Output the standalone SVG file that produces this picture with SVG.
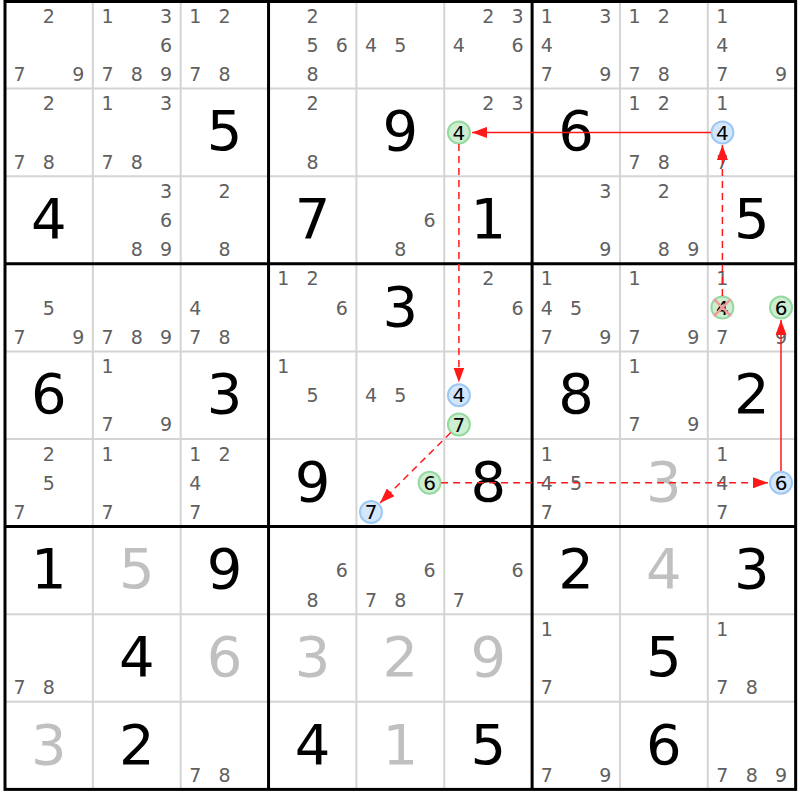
<svg xmlns="http://www.w3.org/2000/svg" width="800" height="800" viewBox="0 0 800 800">
<style>
text{font-family:"DejaVu Sans","Liberation Sans",sans-serif;text-anchor:middle}
.c{font-size:19px;fill:#606060}
.h{font-size:20px;fill:#000}
.g{font-size:56px;fill:#000}
.s{font-size:56px;fill:#c0c0c0}
.gc{fill:#cdeed0;stroke:#95d9a0;stroke-width:2}
.bc{fill:#d2e6fc;stroke:#9ec8f2;stroke-width:2}
.thin{stroke:#d4d4d4;stroke-width:2}
.thick{stroke:#000;stroke-width:3}
.a{stroke:#ff1a1a;stroke-width:1.5;fill:none}
.d{stroke-dasharray:7,5}
</style>
<defs>
<marker id="ah" markerUnits="userSpaceOnUse" markerWidth="16" markerHeight="11" refX="15" refY="5.5" orient="auto"><path d="M0,0 L15,5.5 L0,11 z" fill="#ff1a1a"/></marker>
</defs>
<rect x="0" y="0" width="800" height="800" fill="#fff"/>
<g id="grid">
<g class="thin">
<line x1="92.85" y1="1" x2="92.85" y2="789.4"/><line x1="180.7" y1="1" x2="180.7" y2="789.4"/>
<line x1="356.4" y1="1" x2="356.4" y2="789.4"/><line x1="444.25" y1="1" x2="444.25" y2="789.4"/>
<line x1="619.95" y1="1" x2="619.95" y2="789.4"/><line x1="707.8" y1="1" x2="707.8" y2="789.4"/>
<line x1="5" y1="88.6" x2="795.65" y2="88.6"/><line x1="5" y1="176.2" x2="795.65" y2="176.2"/>
<line x1="5" y1="351.4" x2="795.65" y2="351.4"/><line x1="5" y1="439" x2="795.65" y2="439"/>
<line x1="5" y1="614.2" x2="795.65" y2="614.2"/><line x1="5" y1="701.8" x2="795.65" y2="701.8"/>
</g>
<g class="thick">
<line x1="268.55" y1="1" x2="268.55" y2="789.4"/><line x1="532.1" y1="1" x2="532.1" y2="789.4"/>
<line x1="5" y1="263.8" x2="795.65" y2="263.8"/><line x1="5" y1="526.6" x2="795.65" y2="526.6"/>
<rect x="5" y="1.5" width="790.65" height="787.9" fill="none"/>
</g>
</g>

<g id="r0c0"><text class="c" x="48.9" y="22.6">2</text><text class="c" x="19.6" y="81">7</text><text class="c" x="78.2" y="81">9</text></g>
<g id="r0c1"><text class="c" x="107.5" y="22.6">1</text><text class="c" x="166.1" y="22.6">3</text><text class="c" x="166.1" y="51.8">6</text><text class="c" x="107.5" y="81">7</text><text class="c" x="136.8" y="81">8</text><text class="c" x="166.1" y="81">9</text></g>
<g id="r0c2"><text class="c" x="195.3" y="22.6">1</text><text class="c" x="224.6" y="22.6">2</text><text class="c" x="195.3" y="81">7</text><text class="c" x="224.6" y="81">8</text></g>
<g id="r0c3"><text class="c" x="312.5" y="22.6">2</text><text class="c" x="312.5" y="51.8">5</text><text class="c" x="341.8" y="51.8">6</text><text class="c" x="312.5" y="81">8</text></g>
<g id="r0c4"><text class="c" x="371" y="51.8">4</text><text class="c" x="400.3" y="51.8">5</text></g>
<g id="r0c5"><text class="c" x="488.2" y="22.6">2</text><text class="c" x="517.5" y="22.6">3</text><text class="c" x="458.9" y="51.8">4</text><text class="c" x="517.5" y="51.8">6</text></g>
<g id="r0c6"><text class="c" x="546.7" y="22.6">1</text><text class="c" x="605.3" y="22.6">3</text><text class="c" x="546.7" y="51.8">4</text><text class="c" x="546.7" y="81">7</text><text class="c" x="605.3" y="81">9</text></g>
<g id="r0c7"><text class="c" x="634.6" y="22.6">1</text><text class="c" x="663.9" y="22.6">2</text><text class="c" x="634.6" y="81">7</text><text class="c" x="663.9" y="81">8</text></g>
<g id="r0c8"><text class="c" x="722.4" y="22.6">1</text><text class="c" x="722.4" y="51.8">4</text><text class="c" x="722.4" y="81">7</text><text class="c" x="781" y="81">9</text></g>

<g id="r1c0"><text class="c" x="48.9" y="110.2">2</text><text class="c" x="19.6" y="168.6">7</text><text class="c" x="48.9" y="168.6">8</text></g>
<g id="r1c1"><text class="c" x="107.5" y="110.2">1</text><text class="c" x="166.1" y="110.2">3</text><text class="c" x="107.5" y="168.6">7</text><text class="c" x="136.8" y="168.6">8</text></g>
<g id="r1c2"><text class="g" x="224.6" y="150.4">5</text></g>
<g id="r1c3"><text class="c" x="312.5" y="110.2">2</text><text class="c" x="312.5" y="168.6">8</text></g>
<g id="r1c4"><text class="g" x="400.3" y="150.4">9</text></g>
<g id="r1c5"><text class="c" x="488.2" y="110.2">2</text><text class="c" x="517.5" y="110.2">3</text><circle class="gc" cx="458.9" cy="132.4" r="11"/><text class="h" x="458.9" y="139.6">4</text></g>
<g id="r1c6"><text class="g" x="576" y="150.4">6</text></g>
<g id="r1c7"><text class="c" x="634.6" y="110.2">1</text><text class="c" x="663.9" y="110.2">2</text><text class="c" x="634.6" y="168.6">7</text><text class="c" x="663.9" y="168.6">8</text></g>
<g id="r1c8"><text class="c" x="722.4" y="110.2">1</text><text class="c" x="722.4" y="168.6">7</text><circle class="bc" cx="722.4" cy="132.4" r="11"/><text class="h" x="722.4" y="139.6">4</text></g>

<g id="r2c0"><text class="g" x="48.9" y="238">4</text></g>
<g id="r2c1"><text class="c" x="166.1" y="197.8">3</text><text class="c" x="166.1" y="227">6</text><text class="c" x="136.8" y="256.2">8</text><text class="c" x="166.1" y="256.2">9</text></g>
<g id="r2c2"><text class="c" x="224.6" y="197.8">2</text><text class="c" x="224.6" y="256.2">8</text></g>
<g id="r2c3"><text class="g" x="312.5" y="238">7</text></g>
<g id="r2c4"><text class="c" x="429.6" y="227">6</text><text class="c" x="400.3" y="256.2">8</text></g>
<g id="r2c5"><text class="g" x="488.2" y="238">1</text></g>
<g id="r2c6"><text class="c" x="605.3" y="197.8">3</text><text class="c" x="605.3" y="256.2">9</text></g>
<g id="r2c7"><text class="c" x="663.9" y="197.8">2</text><text class="c" x="663.9" y="256.2">8</text><text class="c" x="693.2" y="256.2">9</text></g>
<g id="r2c8"><text class="g" x="751.7" y="238">5</text></g>

<g id="r3c0"><text class="c" x="48.9" y="314.6">5</text><text class="c" x="19.6" y="343.8">7</text><text class="c" x="78.2" y="343.8">9</text></g>
<g id="r3c1"><text class="c" x="107.5" y="343.8">7</text><text class="c" x="136.8" y="343.8">8</text><text class="c" x="166.1" y="343.8">9</text></g>
<g id="r3c2"><text class="c" x="195.3" y="314.6">4</text><text class="c" x="195.3" y="343.8">7</text><text class="c" x="224.6" y="343.8">8</text></g>
<g id="r3c3"><text class="c" x="283.2" y="285.4">1</text><text class="c" x="312.5" y="285.4">2</text><text class="c" x="341.8" y="314.6">6</text></g>
<g id="r3c4"><text class="g" x="400.3" y="325.6">3</text></g>
<g id="r3c5"><text class="c" x="488.2" y="285.4">2</text><text class="c" x="517.5" y="314.6">6</text></g>
<g id="r3c6"><text class="c" x="546.7" y="285.4">1</text><text class="c" x="546.7" y="314.6">4</text><text class="c" x="576" y="314.6">5</text><text class="c" x="546.7" y="343.8">7</text><text class="c" x="605.3" y="343.8">9</text></g>
<g id="r3c7"><text class="c" x="634.6" y="285.4">1</text><text class="c" x="634.6" y="343.8">7</text><text class="c" x="693.2" y="343.8">9</text></g>
<g id="r3c8"><text class="c" x="722.4" y="285.4">1</text><text class="c" x="722.4" y="343.8">7</text><text class="c" x="781" y="343.8">9</text><circle class="gc" cx="722.4" cy="307.6" r="11"/><text class="h" x="722.4" y="314.8">4</text><g stroke="#f29a9a" stroke-width="2.5"><line x1="714" y1="299.2" x2="730.8" y2="316"/><line x1="730.8" y1="299.2" x2="714" y2="316"/></g><circle class="gc" cx="781" cy="307.6" r="11"/><text class="h" x="781" y="314.8">6</text></g>

<g id="r4c0"><text class="g" x="48.9" y="413.2">6</text></g>
<g id="r4c1"><text class="c" x="107.5" y="373">1</text><text class="c" x="107.5" y="431.4">7</text><text class="c" x="166.1" y="431.4">9</text></g>
<g id="r4c2"><text class="g" x="224.6" y="413.2">3</text></g>
<g id="r4c3"><text class="c" x="283.2" y="373">1</text><text class="c" x="312.5" y="402.2">5</text></g>
<g id="r4c4"><text class="c" x="371" y="402.2">4</text><text class="c" x="400.3" y="402.2">5</text></g>
<g id="r4c5"><circle class="bc" cx="458.9" cy="395.2" r="11"/><text class="h" x="458.9" y="402.4">4</text><circle class="gc" cx="458.9" cy="424.4" r="11"/><text class="h" x="458.9" y="431.6">7</text></g>
<g id="r4c6"><text class="g" x="576" y="413.2">8</text></g>
<g id="r4c7"><text class="c" x="634.6" y="373">1</text><text class="c" x="634.6" y="431.4">7</text><text class="c" x="693.2" y="431.4">9</text></g>
<g id="r4c8"><text class="g" x="751.7" y="413.2">2</text></g>

<g id="r5c0"><text class="c" x="48.9" y="460.6">2</text><text class="c" x="48.9" y="489.8">5</text><text class="c" x="19.6" y="519">7</text></g>
<g id="r5c1"><text class="c" x="107.5" y="460.6">1</text><text class="c" x="107.5" y="519">7</text></g>
<g id="r5c2"><text class="c" x="195.3" y="460.6">1</text><text class="c" x="224.6" y="460.6">2</text><text class="c" x="195.3" y="489.8">4</text><text class="c" x="195.3" y="519">7</text></g>
<g id="r5c3"><text class="g" x="312.5" y="500.8">9</text></g>
<g id="r5c4"><circle class="gc" cx="429.6" cy="482.8" r="11"/><text class="h" x="429.6" y="490">6</text><circle class="bc" cx="371" cy="512" r="11"/><text class="h" x="371" y="519.2">7</text></g>
<g id="r5c5"><text class="g" x="488.2" y="500.8">8</text></g>
<g id="r5c6"><text class="c" x="546.7" y="460.6">1</text><text class="c" x="546.7" y="489.8">4</text><text class="c" x="576" y="489.8">5</text><text class="c" x="546.7" y="519">7</text></g>
<g id="r5c7"><text class="s" x="663.9" y="500.8">3</text></g>
<g id="r5c8"><text class="c" x="722.4" y="460.6">1</text><text class="c" x="722.4" y="489.8">4</text><text class="c" x="722.4" y="519">7</text><circle class="bc" cx="781" cy="482.8" r="11"/><text class="h" x="781" y="490">6</text></g>

<g id="r6c0"><text class="g" x="48.9" y="588.4">1</text></g>
<g id="r6c1"><text class="s" x="136.8" y="588.4">5</text></g>
<g id="r6c2"><text class="g" x="224.6" y="588.4">9</text></g>
<g id="r6c3"><text class="c" x="341.8" y="577.4">6</text><text class="c" x="312.5" y="606.6">8</text></g>
<g id="r6c4"><text class="c" x="429.6" y="577.4">6</text><text class="c" x="371" y="606.6">7</text><text class="c" x="400.3" y="606.6">8</text></g>
<g id="r6c5"><text class="c" x="517.5" y="577.4">6</text><text class="c" x="458.9" y="606.6">7</text></g>
<g id="r6c6"><text class="g" x="576" y="588.4">2</text></g>
<g id="r6c7"><text class="s" x="663.9" y="588.4">4</text></g>
<g id="r6c8"><text class="g" x="751.7" y="588.4">3</text></g>

<g id="r7c0"><text class="c" x="19.6" y="694.2">7</text><text class="c" x="48.9" y="694.2">8</text></g>
<g id="r7c1"><text class="g" x="136.8" y="676">4</text></g>
<g id="r7c2"><text class="s" x="224.6" y="676">6</text></g>
<g id="r7c3"><text class="s" x="312.5" y="676">3</text></g>
<g id="r7c4"><text class="s" x="400.3" y="676">2</text></g>
<g id="r7c5"><text class="s" x="488.2" y="676">9</text></g>
<g id="r7c6"><text class="c" x="546.7" y="635.8">1</text><text class="c" x="546.7" y="694.2">7</text></g>
<g id="r7c7"><text class="g" x="663.9" y="676">5</text></g>
<g id="r7c8"><text class="c" x="722.4" y="635.8">1</text><text class="c" x="722.4" y="694.2">7</text><text class="c" x="751.7" y="694.2">8</text></g>

<g id="r8c0"><text class="s" x="48.9" y="763.6">3</text></g>
<g id="r8c1"><text class="g" x="136.8" y="763.6">2</text></g>
<g id="r8c2"><text class="c" x="195.3" y="781.8">7</text><text class="c" x="224.6" y="781.8">8</text></g>
<g id="r8c3"><text class="g" x="312.5" y="763.6">4</text></g>
<g id="r8c4"><text class="s" x="400.3" y="763.6">1</text></g>
<g id="r8c5"><text class="g" x="488.2" y="763.6">5</text></g>
<g id="r8c6"><text class="c" x="546.7" y="781.8">7</text><text class="c" x="605.3" y="781.8">9</text></g>
<g id="r8c7"><text class="g" x="663.9" y="763.6">6</text></g>
<g id="r8c8"><text class="c" x="722.4" y="781.8">7</text><text class="c" x="751.7" y="781.8">8</text><text class="c" x="781" y="781.8">9</text></g>

<g id="connectors">
<line class="a" x1="711" y1="132.4" x2="472" y2="132.4" marker-end="url(#ah)"/>
<line class="a d" x1="458.9" y1="144" x2="458.9" y2="382.5" marker-end="url(#ah)"/>
<line class="a d" x1="450.8" y1="432.5" x2="380" y2="503" marker-end="url(#ah)"/>
<line class="a d" x1="441.1" y1="482.8" x2="768" y2="482.8" marker-end="url(#ah)"/>
<line class="a d" x1="722.4" y1="296" x2="722.4" y2="145" marker-end="url(#ah)"/>
<line class="a" x1="781" y1="471" x2="781" y2="320" marker-end="url(#ah)"/>
</g>
</svg>
